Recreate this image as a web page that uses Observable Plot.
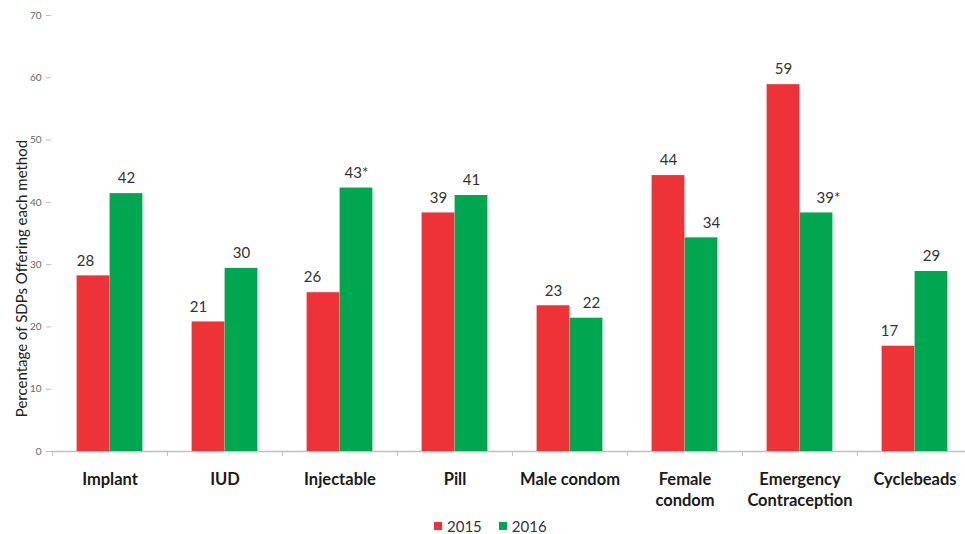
<!DOCTYPE html>
<html>
<head>
<meta charset="utf-8">
<script src="https://cdn.jsdelivr.net/npm/d3@7"></script>
<script src="https://cdn.jsdelivr.net/npm/@observablehq/plot@0.6"></script>
<style>
  html, body { margin: 0; padding: 0; background: #fff; overflow: hidden; }
  #wrap { position: relative; width: 965px; height: 534px; }
  #legend { position: absolute; left: 434px; top: 519px; font-family: Lato, sans-serif; font-size: 15px; color: #333; display: flex; align-items: center; line-height: 14px; }
  .item { display: flex; align-items: center; margin-right: 17px; }
  .sw { width: 8px; height: 8px; margin-right: 5px; display: inline-block; }
</style>
</head>
<body>
<div id="wrap">
  <div id="chart"></div>
  <div id="legend"></div>
</div>
<script>
// ---- data ----
const categories = ["Implant", "IUD", "Injectable", "Pill", "Male condom", "Female condom", "Emergency Contraception", "Cyclebeads"];
const tickLabels = ["Implant", "IUD", "Injectable", "Pill", "Male condom", "Female\ncondom", "Emergency\nContraception", "Cyclebeads"];
const years = ["2015", "2016"];
const values2015 = [28.2, 20.8, 25.5, 38.3, 23.4, 44.3, 58.9, 16.9];
const values2016 = [41.4, 29.4, 42.3, 41.1, 21.4, 34.3, 38.3, 28.9];
const labels2015 = ["28", "21", "26", "39", "23", "44", "59", "17"];
const labels2016 = ["42", "30", "43*", "41", "22", "34", "39*", "29"];
const yTicks = [0, 10, 20, 30, 40, 50, 60, 70];
const yTitle = "Percentage of SDPs Offering each method";
const colors = ["#EE3338", "#00A650"];

// ---- table ----
const rows = categories.flatMap((c, i) => [
  {category: c, year: years[0], value: values2015[i], label: labels2015[i]},
  {category: c, year: years[1], value: values2016[i], label: labels2016[i]}
]);

// ---- layout / style ----
const W = 965, H = 516;
const left = 51, step = 115.2;
const outer = 24.6, half = step / 2;
const barShift = (half - outer) / 2; // offset of each bar's centre from the category centre
// manual label nudges (as placed in the original)
const nudge = {"Implant|2015": -8, "IUD|2015": -10, "Injectable|2015": -11, "Cyclebeads|2015": -9,
               "Female condom|2016": 10, "Emergency Contraception|2016": 12, "Male condom|2016": 5};

const labelMarks = rows.map(r => Plot.text([r], {
  x: "category", y: "value", text: "label",
  dx: (r.year === years[0] ? -barShift : barShift) + (nudge[r.category + "|" + r.year] || 0),
  dy: -15, fontSize: 15, fill: "#333"
}));

const chart = Plot.plot({
  width: W, height: H,
  marginTop: 15, marginBottom: H - 451, marginLeft: left, marginRight: 0,
  style: {fontFamily: "Lato, sans-serif", background: "white"},
  x: {domain: categories, range: [left, left + categories.length * step], padding: 0},
  y: {domain: [0, 70]},
  color: {domain: years, range: colors},
  marks: [
    Plot.ruleY([0], {stroke: "#c0c0c0", strokeWidth: 1.3}),
    Plot.axisY({ticks: yTicks, tickSize: 5, tickPadding: 5, fontSize: 10, fill: "#666", stroke: "#c0c0c0", label: null, line: true}),
    Plot.axisX({tickSize: 5, tickPadding: 0, tickFormat: () => "", dx: -half, stroke: "#c0c0c0", label: null}),
    Plot.axisX({tickSize: 0, tickPadding: 18, tickFormat: d => tickLabels[categories.indexOf(d)], fontSize: 16.5, fontWeight: "bold", fill: "#1a1a1a", lineHeight: 1.28, label: null}),
    Plot.barY(rows.filter(d => d.year === years[0]), {x: "category", y: "value", fill: "year", insetLeft: outer, insetRight: half}),
    Plot.barY(rows.filter(d => d.year === years[1]), {x: "category", y: "value", fill: "year", insetLeft: half, insetRight: outer}),
    ...labelMarks,
    Plot.text([yTitle], {frameAnchor: "left", textAnchor: "middle", rotate: -90, dx: -29, dy: 45, fontSize: 15, fill: "#222"})
  ]
});
document.getElementById("chart").appendChild(chart);

// ---- legend ----
const lg = document.getElementById("legend");
years.forEach((y, i) => {
  const it = document.createElement("span");
  it.className = "item";
  const sw = document.createElement("span");
  sw.className = "sw";
  sw.style.background = colors[i];
  it.appendChild(sw);
  it.appendChild(document.createTextNode(y));
  lg.appendChild(it);
});
</script>
</body>
</html>
